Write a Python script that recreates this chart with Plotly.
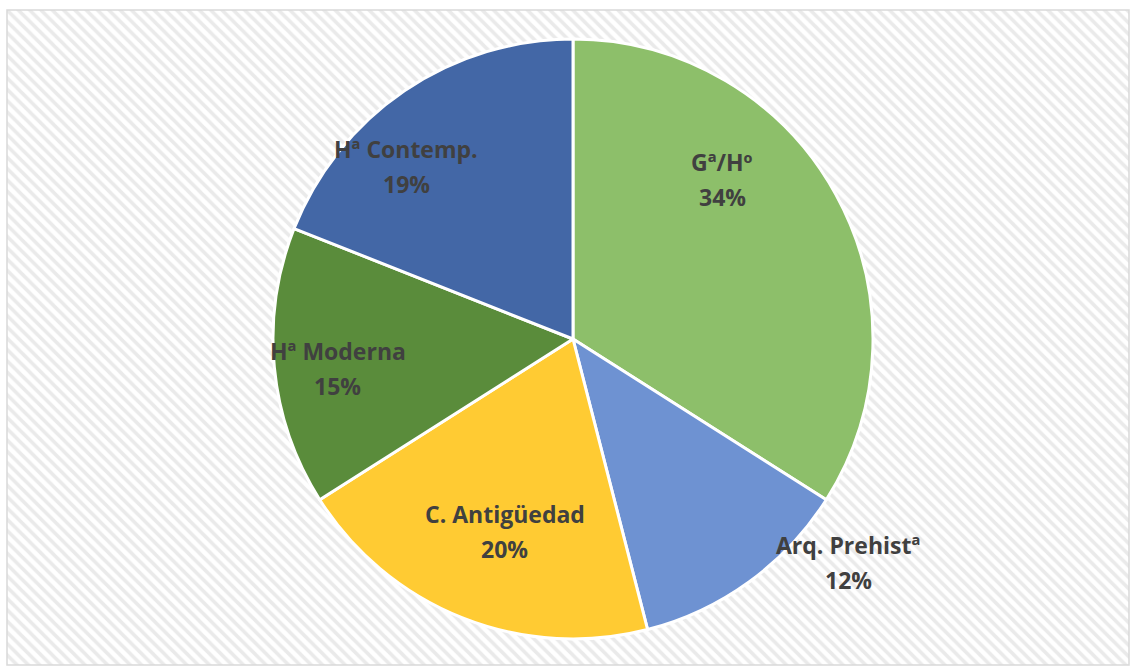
import math
import plotly.graph_objects as go

# datos del gráfico
categorias = ["Gª/Hº", "Arq. Prehistª", "C. Antigüedad", "Hª Moderna", "Hª Contemp."]
valores = [34, 12, 20, 15, 19]
colores = ["#8DBF6A", "#6E92D2", "#FFCB33", "#5A8C3B", "#4367A6"]

# posición de las etiquetas (ángulo en grados desde arriba, fracción del radio)
etiq_angulo = [43, 129, 199.5, 263, 316]
etiq_radio = [0.73, 1.18, 0.68, 0.79, 0.80]

W, H = 1131, 667
ml, mt, mr, mb = 7, 10, 2, 2
pw, ph = W - ml - mr, H - mt - mb
cx, cy, R = 573, 339, 300  # centro y radio de la tarta en píxeles


def px_x(x):
    return (x - ml) / pw


def px_y(y):
    return (H - mb - y) / ph


fig = go.Figure()

# fondo rayado del área del gráfico
fig.add_trace(go.Bar(
    x=[0], y=[1], width=[1], hoverinfo="skip", showlegend=False,
    marker=dict(color="white", line=dict(width=0),
                pattern=dict(shape="\\", fgcolor="#D6D6D6", bgcolor="white",
                             size=8, solidity=0.45)),
))

fig.add_trace(go.Pie(
    labels=categorias, values=valores, sort=False, direction="clockwise",
    rotation=0, textinfo="none", hoverinfo="label+percent",
    marker=dict(colors=colores, line=dict(color="white", width=3)),
    domain=dict(x=[px_x(cx - R), px_x(cx + R)], y=[px_y(cy + R), px_y(cy - R)]),
    showlegend=False,
))

total = sum(valores)
fuente = dict(family="'Open Sans', Lato, sans-serif", size=23, color="#404040")
for nombre, v, ang, rf in zip(categorias, valores, etiq_angulo, etiq_radio):
    a = math.radians(ang)
    lx = cx + rf * R * math.sin(a)
    ly = cy - rf * R * math.cos(a)
    pct = f"{round(v / total * 100)}%"
    fig.add_annotation(x=px_x(lx), y=px_y(ly - 17), xref="paper", yref="paper",
                       xanchor="center", yanchor="middle",
                       text=f"<b>{nombre}</b>", showarrow=False, font=fuente)
    fig.add_annotation(x=px_x(lx), y=px_y(ly + 18), xref="paper", yref="paper",
                       xanchor="center", yanchor="middle",
                       text=f"<b>{pct}</b>", showarrow=False, font=fuente)

fig.add_shape(type="rect", xref="paper", yref="paper", x0=0, x1=1, y0=0, y1=1,
              line=dict(color="#D9D9D9", width=1.5))

fig.update_layout(
    width=W, height=H,
    margin=dict(l=ml, r=mr, t=mt, b=mb),
    paper_bgcolor="white", plot_bgcolor="white",
    bargap=0,
    xaxis=dict(visible=False, range=[-0.5, 0.5], fixedrange=True),
    yaxis=dict(visible=False, range=[0, 1], fixedrange=True),
)

fig.write_html("out.html", config={"displayModeBar": False},
               post_script="document.body.style.margin='0';")
